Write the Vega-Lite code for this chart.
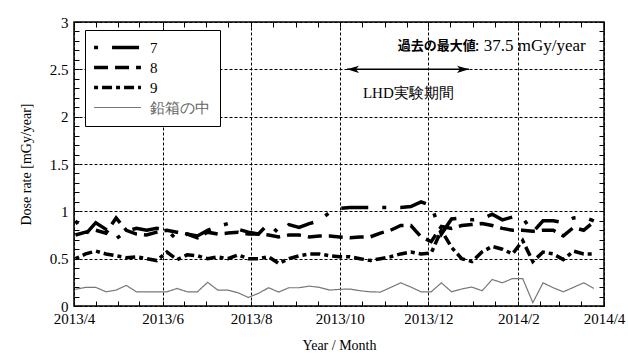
{
  "$schema": "https://vega.github.io/schema/vega-lite/v6.json",
  "width": 530,
  "height": 284,
  "autosize": "none",
  "padding": {"left": 74, "top": 22, "right": 24, "bottom": 50},
  "config": {
    "view": {"stroke": "black", "strokeWidth": 1.5},
    "font": "Liberation Serif",
    "axis": {
      "labelFont": "Liberation Serif", "labelFontSize": 15, "labelColor": "black",
      "titleFont": "Liberation Serif", "titleFontSize": 14, "titleFontWeight": "normal", "titleColor": "black",
      "domain": false, "tickColor": "black", "tickWidth": 1,
      "gridColor": "black", "gridDash": [3, 2], "gridWidth": 1
    }
  },
  "layer": [
    {
      "data": {"values": [
        {"d": "2013-04-02", "7": 0.90, "8": 0.75, "9": 0.50, "鉛箱の中": 0.176},
        {"d": "2013-04-09", "7": 0.76, "8": 0.78, "9": 0.55, "鉛箱の中": 0.197},
        {"d": "2013-04-16", "7": 0.88, "8": 0.80, "9": 0.58, "鉛箱の中": 0.197},
        {"d": "2013-04-23", "7": 0.81, "8": 0.77, "9": 0.55, "鉛箱の中": 0.150},
        {"d": "2013-04-30", "7": 0.71, "8": 0.93, "9": 0.53, "鉛箱の中": 0.168},
        {"d": "2013-05-07", "7": 0.79, "8": 0.80, "9": 0.51, "鉛箱の中": 0.218},
        {"d": "2013-05-14", "7": 0.82, "8": 0.76, "9": 0.52, "鉛箱の中": 0.150},
        {"d": "2013-05-21", "7": 0.80, "8": 0.75, "9": 0.50, "鉛箱の中": 0.150},
        {"d": "2013-05-28", "7": 0.82, "8": 0.78, "9": 0.48, "鉛箱の中": 0.150},
        {"d": "2013-06-04", "7": 0.80, "8": 0.80, "9": 0.57, "鉛箱の中": 0.150},
        {"d": "2013-06-11", "7": 0.70, "8": 0.78, "9": 0.49, "鉛箱の中": 0.185},
        {"d": "2013-06-18", "7": 0.76, "8": 0.76, "9": 0.54, "鉛箱の中": 0.150},
        {"d": "2013-06-25", "7": 0.74, "8": 0.72, "9": 0.53, "鉛箱の中": 0.150},
        {"d": "2013-07-02", "7": 0.80, "8": 0.78, "9": 0.50, "鉛箱の中": 0.250},
        {"d": "2013-07-09", "7": 0.84, "8": 0.76, "9": 0.52, "鉛箱の中": 0.168},
        {"d": "2013-07-16", "7": 0.87, "8": 0.77, "9": 0.50, "鉛箱の中": 0.168},
        {"d": "2013-07-23", "7": 0.81, "8": 0.78, "9": 0.54, "鉛箱の中": 0.140},
        {"d": "2013-07-30", "7": 0.78, "8": 0.76, "9": 0.50, "鉛箱の中": 0.090},
        {"d": "2013-08-06", "7": 0.76, "8": 0.76, "9": 0.50, "鉛箱の中": 0.133},
        {"d": "2013-08-13", "7": 0.87, "8": 0.75, "9": 0.52, "鉛箱の中": 0.193},
        {"d": "2013-08-20", "7": 0.77, "8": 0.73, "9": 0.45, "鉛箱の中": 0.147},
        {"d": "2013-08-27", "7": 0.86, "8": 0.75, "9": 0.50, "鉛箱の中": 0.193},
        {"d": "2013-09-03", "7": 0.83, "8": 0.75, "9": 0.53, "鉛箱の中": 0.193},
        {"d": "2013-09-10", "7": 0.87, "8": 0.73, "9": 0.55, "鉛箱の中": 0.210},
        {"d": "2013-09-17", "7": 0.90, "8": 0.74, "9": 0.55, "鉛箱の中": 0.197},
        {"d": "2013-09-24", "7": 0.99, "8": 0.74, "9": 0.53, "鉛箱の中": 0.168},
        {"d": "2013-10-01", "7": 1.03, "8": 0.73, "9": 0.52, "鉛箱の中": 0.176},
        {"d": "2013-10-08", "7": 1.04, "8": 0.72, "9": 0.52, "鉛箱の中": 0.179},
        {"d": "2013-10-15", "7": 1.04, "8": 0.73, "9": 0.50, "鉛箱の中": 0.161},
        {"d": "2013-10-22", "7": 1.04, "8": 0.73, "9": 0.48, "鉛箱の中": 0.150},
        {"d": "2013-10-29", "7": 1.04, "8": 0.77, "9": 0.50, "鉛箱の中": 0.147},
        {"d": "2013-11-05", "7": 1.04, "8": 0.80, "9": 0.52, "鉛箱の中": 0.195},
        {"d": "2013-11-12", "7": 1.04, "8": 0.85, "9": 0.55, "鉛箱の中": 0.245},
        {"d": "2013-11-19", "7": 1.05, "8": 0.85, "9": 0.57, "鉛箱の中": 0.200},
        {"d": "2013-11-26", "7": 1.10, "8": 0.73, "9": 0.55, "鉛箱の中": 0.150},
        {"d": "2013-12-03", "7": 1.06, "8": 0.68, "9": 0.56, "鉛箱の中": 0.150},
        {"d": "2013-12-10", "7": 0.76, "8": 0.84, "9": 0.80, "鉛箱の中": 0.245},
        {"d": "2013-12-17", "7": 0.92, "8": 0.82, "9": 0.62, "鉛箱の中": 0.150},
        {"d": "2013-12-24", "7": 0.93, "8": 0.85, "9": 0.50, "鉛箱の中": 0.180},
        {"d": "2013-12-31", "7": 0.91, "8": 0.86, "9": 0.47, "鉛箱の中": 0.200},
        {"d": "2014-01-07", "7": 0.92, "8": 0.87, "9": 0.57, "鉛箱の中": 0.161},
        {"d": "2014-01-14", "7": 0.97, "8": 0.85, "9": 0.63, "鉛箱の中": 0.280},
        {"d": "2014-01-21", "7": 0.91, "8": 0.82, "9": 0.60, "鉛箱の中": 0.245},
        {"d": "2014-01-28", "7": 0.94, "8": 0.80, "9": 0.55, "鉛箱の中": 0.290},
        {"d": "2014-02-04", "7": 0.93, "8": 0.80, "9": 0.69, "鉛箱の中": 0.290},
        {"d": "2014-02-11", "7": 0.78, "8": 0.79, "9": 0.47, "鉛箱の中": 0.035},
        {"d": "2014-02-18", "7": 0.90, "8": 0.80, "9": 0.57, "鉛箱の中": 0.245},
        {"d": "2014-02-25", "7": 0.90, "8": 0.80, "9": 0.55, "鉛箱の中": 0.193},
        {"d": "2014-03-04", "7": 0.88, "8": 0.74, "9": 0.49, "鉛箱の中": 0.150},
        {"d": "2014-03-11", "7": 0.93, "8": 0.83, "9": 0.58, "鉛箱の中": 0.197},
        {"d": "2014-03-18", "7": 0.94, "8": 0.80, "9": 0.55, "鉛箱の中": 0.245},
        {"d": "2014-03-25", "7": 0.90, "8": 0.89, "9": 0.55, "鉛箱の中": 0.186}
      ]},
      "transform": [{"fold": ["7", "8", "9", "鉛箱の中"], "as": ["series", "value"]}],
      "mark": {"type": "line"},
      "encoding": {
        "x": {
          "field": "d", "type": "temporal",
          "scale": {"type": "utc", "nice": false, "domain": [{"year": 2013, "month": 4, "date": 1, "utc": true}, {"year": 2014, "month": 4, "date": 1, "utc": true}]},
          "axis": {
            "orient": "bottom",
            "values": [
              {"year": 2013, "month": 4, "date": 1, "utc": true}, {"year": 2013, "month": 4, "date": 16, "utc": true},
              {"year": 2013, "month": 5, "date": 1, "utc": true}, {"year": 2013, "month": 5, "date": 16, "utc": true},
              {"year": 2013, "month": 6, "date": 1, "utc": true}, {"year": 2013, "month": 6, "date": 16, "utc": true},
              {"year": 2013, "month": 7, "date": 1, "utc": true}, {"year": 2013, "month": 7, "date": 16, "utc": true},
              {"year": 2013, "month": 8, "date": 1, "utc": true}, {"year": 2013, "month": 8, "date": 16, "utc": true},
              {"year": 2013, "month": 9, "date": 1, "utc": true}, {"year": 2013, "month": 9, "date": 16, "utc": true},
              {"year": 2013, "month": 10, "date": 1, "utc": true}, {"year": 2013, "month": 10, "date": 16, "utc": true},
              {"year": 2013, "month": 11, "date": 1, "utc": true}, {"year": 2013, "month": 11, "date": 16, "utc": true},
              {"year": 2013, "month": 12, "date": 1, "utc": true}, {"year": 2013, "month": 12, "date": 16, "utc": true},
              {"year": 2014, "month": 1, "date": 1, "utc": true}, {"year": 2014, "month": 1, "date": 16, "utc": true},
              {"year": 2014, "month": 2, "date": 1, "utc": true}, {"year": 2014, "month": 2, "date": 16, "utc": true},
              {"year": 2014, "month": 3, "date": 1, "utc": true}, {"year": 2014, "month": 3, "date": 16, "utc": true},
              {"year": 2014, "month": 4, "date": 1, "utc": true}
            ],
            "tickSize": -5,
            "labelPadding": 10,
            "labelExpr": "utcdate(datum.value)==1 && utcmonth(datum.value)%2==1 ? utcFormat(datum.value,'%Y') + '/' + (utcmonth(datum.value)+1) : ''",
            "labelOverlap": false, "labelFlush": false, "labelBound": false,
            "grid": true,
            "gridOpacity": {"condition": {"test": "utcdate(datum.value)==1 && utcmonth(datum.value)%2==1", "value": 1}, "value": 0},
            "title": "Year / Month",
            "titlePadding": 12
          }
        },
        "y": {
          "field": "value", "type": "quantitative",
          "scale": {"domain": [0, 3], "nice": false, "zero": false},
          "axis": {
            "orient": "left",
            "values": [0, 0.1, 0.2, 0.3, 0.4, 0.5, 0.6, 0.7, 0.8, 0.9, 1, 1.1, 1.2, 1.3, 1.4, 1.5, 1.6, 1.7, 1.8, 1.9, 2, 2.1, 2.2, 2.3, 2.4, 2.5, 2.6, 2.7, 2.8, 2.9, 3],
            "tickSize": -5,
            "labelPadding": 11,
            "labelExpr": "abs(datum.value*2-round(datum.value*2))<0.01 ? format(datum.value,'~g') : ''",
            "labelOverlap": false, "labelFlush": false, "labelBound": false,
            "grid": true,
            "gridOpacity": {"condition": {"test": "abs(datum.value*2-round(datum.value*2))<0.01", "value": 1}, "value": 0},
            "title": "Dose rate [mGy/year]",
            "titlePadding": 16
          }
        },
        "color": {
          "field": "series", "type": "nominal",
          "scale": {"domain": ["7", "8", "9", "鉛箱の中"], "range": ["#000000", "#000000", "#000000", "#777777"]},
          "legend": {"title": null, "orient": "none", "legendX": 11, "legendY": 8, "strokeColor": "black", "fillColor": "white", "padding": 10, "symbolType": "M-5,0H5", "symbolSize": 88, "labelFont": "Liberation Serif", "labelFontSize": 15, "labelColor": {"expr": "datum.label == '鉛箱の中' ? '#666666' : 'black'"}, "rowPadding": 4, "symbolOffset": 15, "labelOffset": 25}
        },
        "strokeDash": {
          "field": "series", "type": "nominal",
          "scale": {"domain": ["7", "8", "9", "鉛箱の中"], "range": [[4, 14, 27, 14], [14, 7], [4, 4, 10, 4], [1, 0]]},
          "legend": {"title": null, "orient": "none", "legendX": 11, "legendY": 8, "strokeColor": "black", "fillColor": "white", "padding": 10, "symbolType": "M-5,0H5", "symbolSize": 88, "labelFont": "Liberation Serif", "labelFontSize": 15, "labelColor": {"expr": "datum.label == '鉛箱の中' ? '#666666' : 'black'"}, "rowPadding": 4, "symbolOffset": 15, "labelOffset": 25}
        },
        "strokeWidth": {
          "field": "series", "type": "nominal",
          "scale": {"type": "ordinal", "domain": ["7", "8", "9", "鉛箱の中"], "range": [3.5, 3.5, 3.5, 1.2]},
          "legend": {"title": null, "orient": "none", "legendX": 11, "legendY": 8, "strokeColor": "black", "fillColor": "white", "padding": 10, "symbolType": "M-5,0H5", "symbolSize": 88, "labelFont": "Liberation Serif", "labelFontSize": 15, "labelColor": {"expr": "datum.label == '鉛箱の中' ? '#666666' : 'black'"}, "rowPadding": 4, "symbolOffset": 15, "labelOffset": 25}
        }
      }
    },
    {
      "data": {"values": [{"start": "2013-10-06", "end": "2013-12-29", "y": 2.5}]},
      "mark": {"type": "rule", "strokeWidth": 1.5, "color": "black"},
      "encoding": {
        "x": {
          "field": "start", "type": "temporal",
          "scale": {"type": "utc", "nice": false, "domain": [{"year": 2013, "month": 4, "date": 1, "utc": true}, {"year": 2014, "month": 4, "date": 1, "utc": true}]},
          "axis": {
            "orient": "top",
            "values": [
              {"year": 2013, "month": 4, "date": 1, "utc": true}, {"year": 2013, "month": 4, "date": 16, "utc": true},
              {"year": 2013, "month": 5, "date": 1, "utc": true}, {"year": 2013, "month": 5, "date": 16, "utc": true},
              {"year": 2013, "month": 6, "date": 1, "utc": true}, {"year": 2013, "month": 6, "date": 16, "utc": true},
              {"year": 2013, "month": 7, "date": 1, "utc": true}, {"year": 2013, "month": 7, "date": 16, "utc": true},
              {"year": 2013, "month": 8, "date": 1, "utc": true}, {"year": 2013, "month": 8, "date": 16, "utc": true},
              {"year": 2013, "month": 9, "date": 1, "utc": true}, {"year": 2013, "month": 9, "date": 16, "utc": true},
              {"year": 2013, "month": 10, "date": 1, "utc": true}, {"year": 2013, "month": 10, "date": 16, "utc": true},
              {"year": 2013, "month": 11, "date": 1, "utc": true}, {"year": 2013, "month": 11, "date": 16, "utc": true},
              {"year": 2013, "month": 12, "date": 1, "utc": true}, {"year": 2013, "month": 12, "date": 16, "utc": true},
              {"year": 2014, "month": 1, "date": 1, "utc": true}, {"year": 2014, "month": 1, "date": 16, "utc": true},
              {"year": 2014, "month": 2, "date": 1, "utc": true}, {"year": 2014, "month": 2, "date": 16, "utc": true},
              {"year": 2014, "month": 3, "date": 1, "utc": true}, {"year": 2014, "month": 3, "date": 16, "utc": true},
              {"year": 2014, "month": 4, "date": 1, "utc": true}
            ],
            "tickSize": -5, "labels": false, "grid": false, "title": null
          }
        },
        "x2": {"field": "end"},
        "y": {
          "field": "y", "type": "quantitative",
          "scale": {"domain": [0, 3], "nice": false, "zero": false},
          "axis": {
            "orient": "right",
            "values": [0, 0.1, 0.2, 0.3, 0.4, 0.5, 0.6, 0.7, 0.8, 0.9, 1, 1.1, 1.2, 1.3, 1.4, 1.5, 1.6, 1.7, 1.8, 1.9, 2, 2.1, 2.2, 2.3, 2.4, 2.5, 2.6, 2.7, 2.8, 2.9, 3],
            "tickSize": -5, "labels": false, "grid": false, "title": null
          }
        }
      }
    },
    {
      "data": {"values": [{"start": "2013-10-06", "end": "2013-12-29", "y": 2.5}]},
      "mark": {"type": "point", "shape": "M0,0L2,-0.6L1.5,0L2,0.6Z", "filled": true, "color": "black", "opacity": 1, "size": 144},
      "encoding": {
        "x": {"field": "start", "type": "temporal", "scale": {"type": "utc", "nice": false}, "axis": null},
        "y": {"field": "y", "type": "quantitative", "axis": null}
      }
    },
    {
      "data": {"values": [{"start": "2013-10-06", "end": "2013-12-29", "y": 2.5}]},
      "mark": {"type": "point", "shape": "M0,0L-2,-0.6L-1.5,0L-2,0.6Z", "filled": true, "color": "black", "opacity": 1, "size": 144},
      "encoding": {
        "x": {"field": "end", "type": "temporal", "scale": {"type": "utc", "nice": false}, "axis": null},
        "y": {"field": "y", "type": "quantitative", "axis": null}
      }
    },
    {
      "data": {"values": [{"d": "2013-11-10", "y": 2.75, "label": "過去の最大値"}]},
      "mark": {"type": "text", "align": "left", "baseline": "middle", "font": "Noto Sans CJK JP", "fontSize": 13, "fontWeight": "bold", "color": "black"},
      "encoding": {
        "x": {"field": "d", "type": "temporal", "scale": {"type": "utc", "nice": false}, "axis": null},
        "y": {"field": "y", "type": "quantitative", "axis": null},
        "text": {"field": "label"}
      }
    },
    {
      "data": {"values": [{"d": "2014-01-02", "y": 2.75, "label": ": 37.5 mGy/year"}]},
      "mark": {"type": "text", "align": "left", "baseline": "middle", "font": "Liberation Serif", "fontSize": 17, "color": "black"},
      "encoding": {
        "x": {"field": "d", "type": "temporal", "scale": {"type": "utc", "nice": false}, "axis": null},
        "y": {"field": "y", "type": "quantitative", "axis": null},
        "text": {"field": "label"}
      }
    },
    {
      "data": {"values": [{"d": "2013-10-17", "y": 2.25, "label": "LHD実験期間"}]},
      "mark": {"type": "text", "align": "left", "baseline": "middle", "font": "Liberation Serif", "fontSize": 15, "color": "black"},
      "encoding": {
        "x": {"field": "d", "type": "temporal", "scale": {"type": "utc", "nice": false}, "axis": null},
        "y": {"field": "y", "type": "quantitative", "axis": null},
        "text": {"field": "label"}
      }
    }
  ],
  "resolve": {"axis": {"x": "independent", "y": "independent"}}
}
